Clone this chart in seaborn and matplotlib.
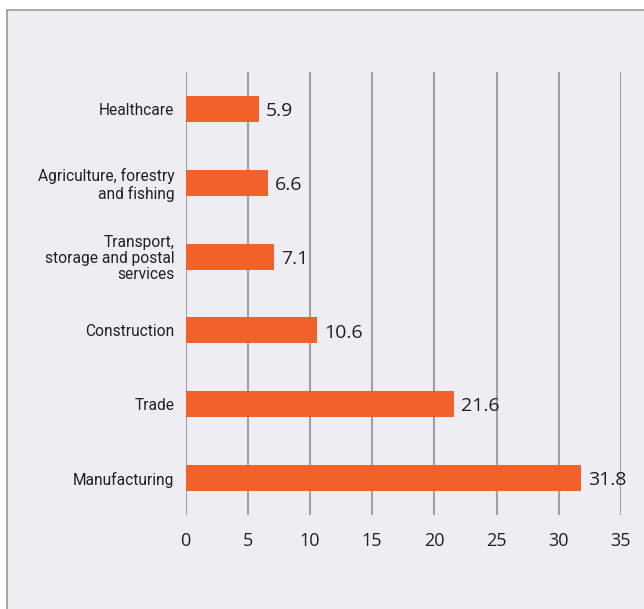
import matplotlib
matplotlib.use("Agg")
import matplotlib.pyplot as plt
from matplotlib.patches import Rectangle
from matplotlib import font_manager
import seaborn as sns
import pandas as pd

sectors = [
    "Healthcare",
    "Agriculture, forestry\nand fishing",
    "Transport,\nstorage and postal\nservices",
    "Construction",
    "Trade",
    "Manufacturing",
]
shares = [5.9, 6.6, 7.1, 10.6, 21.6, 31.8]
x_ticks = [0, 5, 10, 15, 20, 25, 30, 35]

sns.set_theme(style="white")
plt.rcParams["font.family"] = ["Open Sans", "DejaVu Sans"]

label_font = font_manager.FontProperties(family=["Roboto", "DejaVu Sans"], size=11.2)

bg = "#EDEDF3"
bar_color = "#F2612A"
grid_color = "#A0A0A5"
text_color = "#231F20"

fig = plt.figure(figsize=(6.44, 6.09), dpi=100, facecolor="white")
fig.patches.append(Rectangle((7 / 644, -0.1), 1.0, 1 - 10 / 609 + 0.1,
                             transform=fig.transFigure, facecolor=bg,
                             edgecolor="#9A9A9A", linewidth=1.2, zorder=-5))

ax = fig.add_axes([185.5 / 644, 1 - 515 / 609, (621 - 185.5) / 644, (515 - 72) / 609])
ax.set_facecolor("none")
ax.set_zorder(2)

df = pd.DataFrame({"sector": sectors, "share": shares})
sns.barplot(data=df, y="sector", x="share", orient="h", color=bar_color,
            saturation=1, width=0.35, linewidth=0, ax=ax, zorder=3)

ax.set_xlim(0, 35)
ax.set_ylim(len(sectors) - 0.5, -0.5)
ax.set_xticks(x_ticks)
ax.set_xticklabels([str(t) for t in x_ticks], fontsize=13, color=text_color)
for t in x_ticks:
    ax.axvline(t, color=grid_color, linewidth=1.5, zorder=1)

ax.tick_params(axis="x", length=0, pad=12)
ax.tick_params(axis="y", length=0, pad=8)
for lbl in ax.get_yticklabels():
    lbl.set_fontproperties(label_font)
    lbl.set_color(text_color)
    lbl.set_linespacing(1.1)

for i, v in enumerate(shares):
    ax.text(v + 0.55, i + 0.03, f"{v:.1f}", va="center", ha="left",
            fontsize=14, color=text_color, zorder=4)

ax.set_xlabel("")
ax.set_ylabel("")
for s in ax.spines.values():
    s.set_visible(False)

fig.savefig("out.png", dpi=100, facecolor="white")
